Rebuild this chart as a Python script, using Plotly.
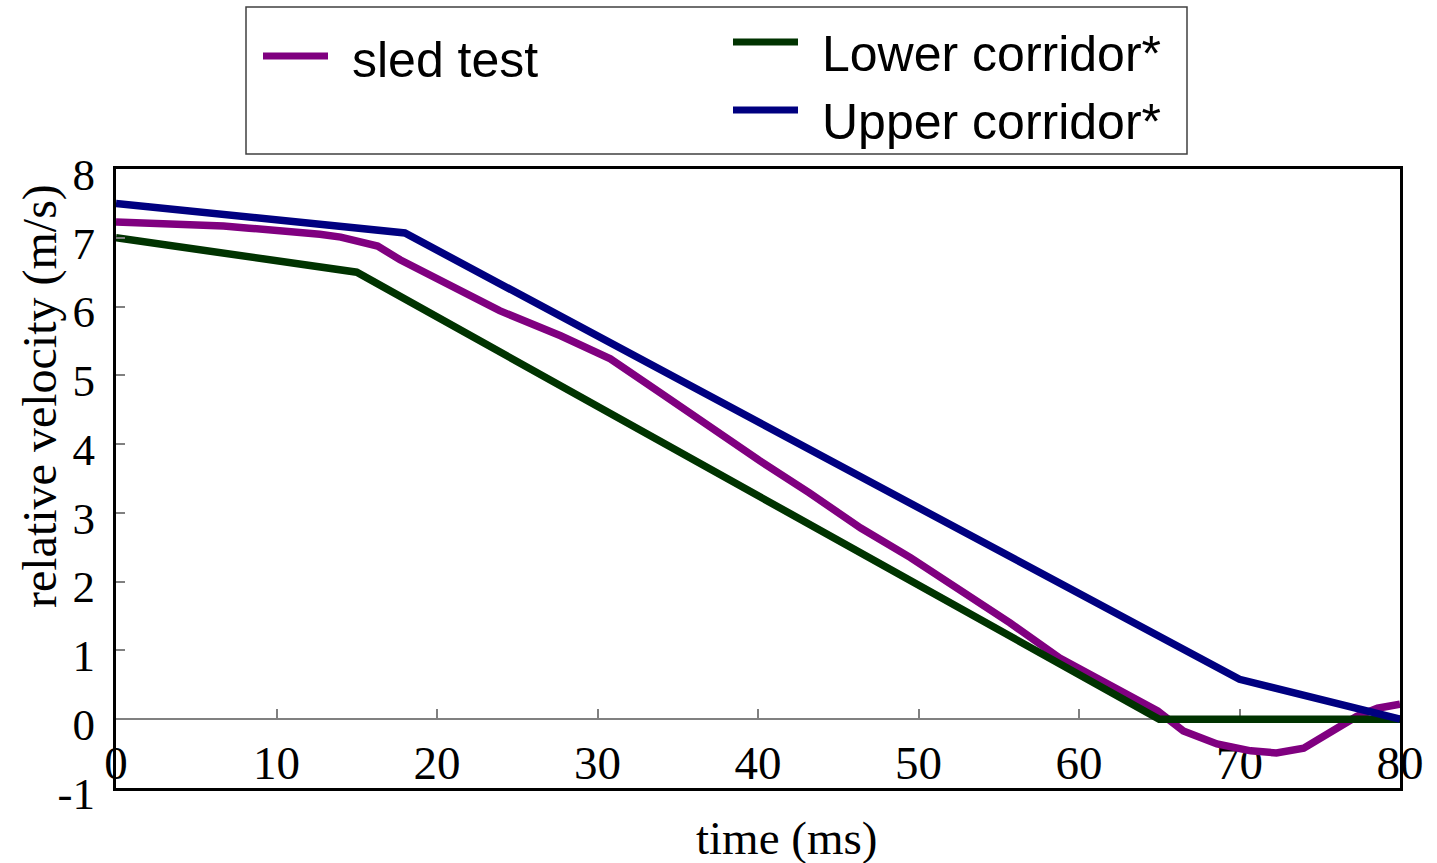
import plotly.graph_objects as go

# Measured relative velocity of the sled test and the corridor limits
sled_t = [0, 4.6, 6.7, 8.3, 10.0, 11.5, 12.7, 14.0, 14.8, 16.3, 17.7, 20.8, 23.9, 27.7,
          30.8, 33.9, 37.0, 40.1, 43.2, 46.4, 49.5, 52.6, 55.7, 58.8, 61.9, 64.9,
          66.5, 68.6, 70.7, 72.3, 74.0, 75.8, 77.3, 78.6, 80.0]
sled_v = [7.23, 7.20, 7.17, 7.14, 7.11, 7.08, 7.05, 7.01, 6.97, 6.88, 6.68, 6.30, 5.94, 5.575,
          5.24, 4.75, 4.24, 3.76, 3.29, 2.78, 2.35, 1.89, 1.40, 0.89, 0.50, 0.12,
          -0.17, -0.36, -0.46, -0.49, -0.42, -0.17, 0.04, 0.16, 0.22]

lower_t = [0, 15, 65, 80]
lower_v = [7.0, 6.5, 0.0, 0.0]

upper_t = [0, 18, 70, 80]
upper_v = [7.5, 7.07, 0.58, 0.0]

series_names = ["sled test", "Lower corridor*", "Upper corridor*"]
series_colors = ["#800080", "#003300", "#000080"]

x_ticks = [0, 10, 20, 30, 40, 50, 60, 70, 80]
y_ticks = [-1, 0, 1, 2, 3, 4, 5, 6, 7, 8]

W, H = 1437, 863
ML, MR, MT, MB = 116, 37, 169, 75
PW, PH = W - ML - MR, H - MT - MB


def px(x):
    return (x - ML) / PW


def py(y):
    return (H - MB - y) / PH


serif = "Liberation Serif"
sans = "Liberation Sans"

fig = go.Figure()
for t, v, name, color in zip([sled_t, lower_t, upper_t], [sled_v, lower_v, upper_v],
                             series_names, series_colors):
    fig.add_trace(go.Scatter(x=t, y=v, mode="lines", name=name, showlegend=False,
                             line=dict(color=color, width=7.5)))

fig.update_layout(
    width=W, height=H,
    margin=dict(l=ML, r=MR, t=MT, b=MB),
    paper_bgcolor="white", plot_bgcolor="white",
    xaxis=dict(range=[0, 80], showgrid=False, zeroline=False, showline=True, mirror=True,
               linecolor="black", linewidth=3, ticks="", showticklabels=False),
    # axis crossing at y = 0, carrying the tick marks and labels
    xaxis2=dict(range=[0, 80], overlaying="x", anchor="free", position=1 / 9,
                layer="below traces",
                showgrid=False, zeroline=False, showline=True, linecolor="#808080",
                linewidth=2, ticks="inside", ticklen=9, tickwidth=2, tickcolor="#808080",
                tickvals=x_ticks, ticktext=[str(v) for v in x_ticks],
                tickfont=dict(family=serif, size=47, color="black"),
                ticklabelstandoff=2),
    yaxis=dict(range=[-1, 8], showgrid=False, zeroline=False, showline=True, mirror=True,
               linecolor="black", linewidth=3, ticks="inside", ticklen=9, tickwidth=2,
               tickcolor="#808080", tickvals=y_ticks, ticktext=[str(v) for v in y_ticks],
               tickfont=dict(family=serif, size=45, color="black"),
               ticklabelstandoff=9, ticklabelshift=5),
)

# empty trace so the overlaid axis is drawn
fig.add_trace(go.Scatter(x=[None], y=[None], xaxis="x2", showlegend=False,
                         hoverinfo="skip"))

# axis titles
fig.add_annotation(x=px(786), y=py(838), xref="paper", yref="paper", text="time (ms)",
                   showarrow=False, font=dict(family=serif, size=47, color="black"),
                   xanchor="center", yanchor="middle")
fig.add_annotation(x=px(40), y=py(396), xref="paper", yref="paper",
                   text="relative velocity (m/s)", textangle=-90, showarrow=False,
                   font=dict(family=serif, size=48, color="black"),
                   xanchor="center", yanchor="middle")

# legend frame, swatches and labels
fig.add_shape(type="rect", xref="paper", yref="paper", x0=px(246), x1=px(1187),
              y0=py(154), y1=py(7), line=dict(color="#404040", width=1.5),
              fillcolor="white", layer="above")
legend_items = [
    (263, 56, 350, 60),
    (733, 42, 820, 54),
    (733, 110, 820, 122),
]
for (sx, sy, tx, ty), name, color in zip(legend_items, series_names, series_colors):
    fig.add_shape(type="line", xref="paper", yref="paper", x0=px(sx), x1=px(sx + 65),
                  y0=py(sy), y1=py(sy), line=dict(color=color, width=7), layer="above")
    fig.add_annotation(x=px(tx), y=py(ty), xref="paper", yref="paper", text=name,
                       showarrow=False, xanchor="left", yanchor="middle",
                       font=dict(family=sans, size=50, color="black"))

fig.write_html("out.html")
